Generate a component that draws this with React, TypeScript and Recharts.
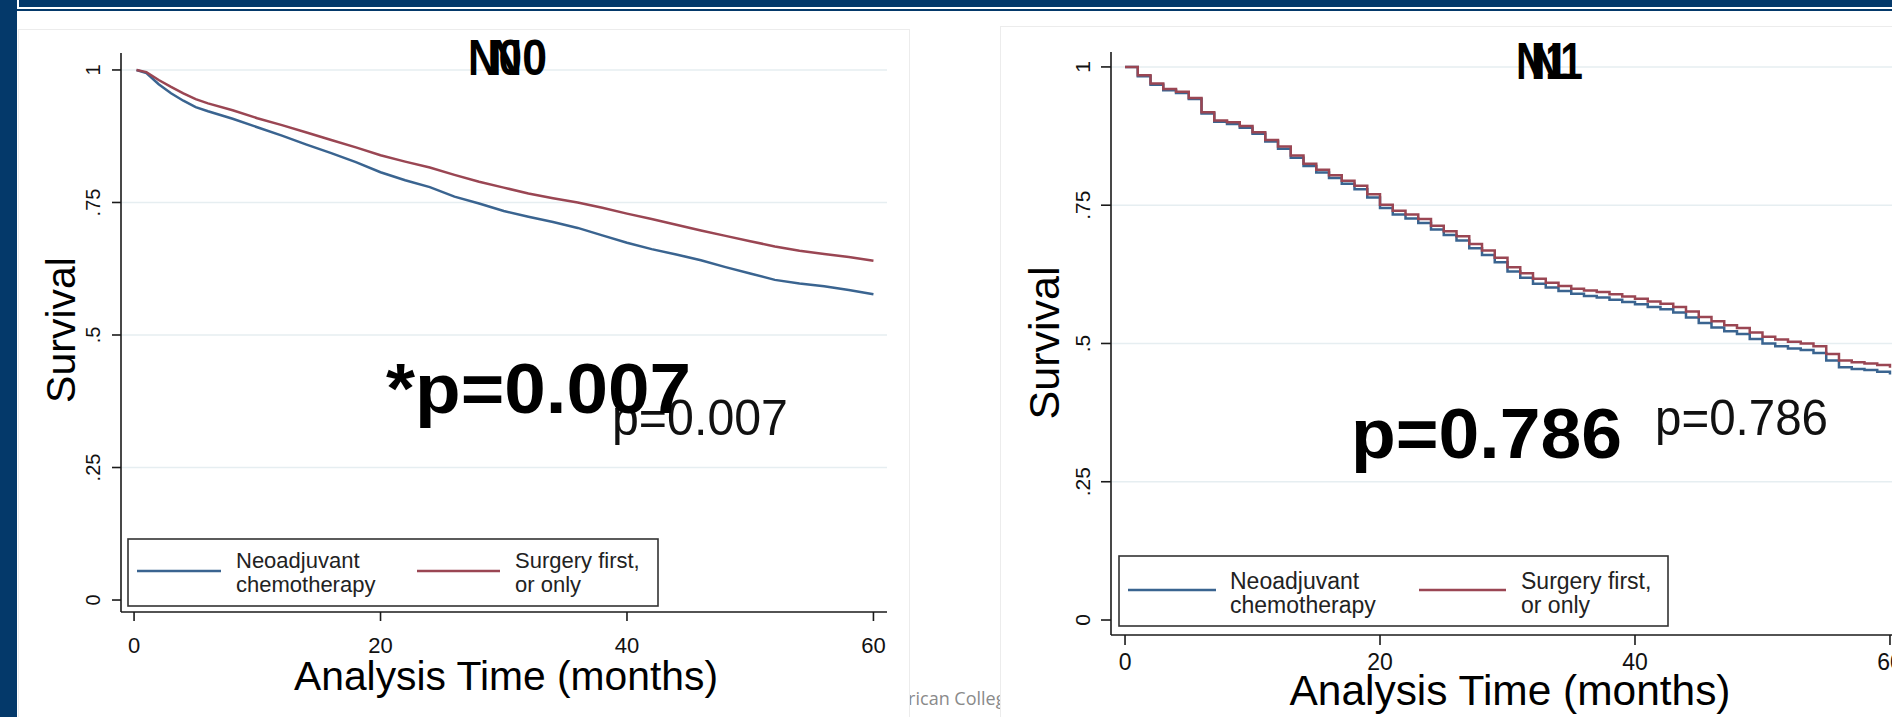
import React from 'react';
import { LineChart, Line, XAxis, YAxis, ReferenceLine, Legend } from 'recharts';

// axis ticks + legend text
const monthTicks = [0, 20, 40, 60];
const survivalTicks = [0, 0.25, 0.5, 0.75, 1];
const gridLevels = [0.25, 0.5, 0.75, 1];
const seriesLabels = [['Neoadjuvant', 'chemotherapy'], ['Surgery first,', 'or only']];

// N0 panel
const n0Months = [0.2, 1, 2, 3, 4, 5, 6, 8, 10, 12, 14, 16, 18, 20, 22, 24, 26, 28, 30, 32, 34, 36, 38, 40, 42, 44, 46, 48, 50, 52, 54, 56, 58, 60];
const n0Neoadjuvant = [1.0, 0.994, 0.973, 0.956, 0.942, 0.93, 0.922, 0.908, 0.892, 0.876, 0.859, 0.843, 0.826, 0.807, 0.792, 0.779, 0.761, 0.748, 0.734, 0.723, 0.713, 0.702, 0.688, 0.674, 0.662, 0.652, 0.641, 0.628, 0.616, 0.604, 0.597, 0.592, 0.585, 0.577];
const n0Surgery = [1.0, 0.996, 0.981, 0.968, 0.956, 0.945, 0.937, 0.924, 0.909, 0.896, 0.882, 0.868, 0.854, 0.839, 0.827, 0.816, 0.802, 0.789, 0.778, 0.767, 0.758, 0.75, 0.74, 0.729, 0.719, 0.708, 0.697, 0.687, 0.677, 0.667, 0.659, 0.653, 0.647, 0.64];

// N1 panel
const n1Months = [0, 1, 2, 3, 4, 5, 6, 7, 8, 9, 10, 11, 12, 13, 14, 15, 16, 17, 18, 19, 20, 21, 22, 23, 24, 25, 26, 27, 28, 29, 30, 31, 32, 33, 34, 35, 36, 37, 38, 39, 40, 41, 42, 43, 44, 45, 46, 47, 48, 49, 50, 51, 52, 53, 54, 55, 56, 57, 58, 59, 60];
const n1Neoadjuvant = [1.0, 0.983, 0.968, 0.958, 0.953, 0.942, 0.916, 0.901, 0.897, 0.89, 0.879, 0.865, 0.852, 0.836, 0.821, 0.809, 0.799, 0.789, 0.779, 0.764, 0.745, 0.733, 0.726, 0.718, 0.706, 0.696, 0.686, 0.672, 0.66, 0.647, 0.63, 0.619, 0.608, 0.601, 0.595, 0.59, 0.586, 0.583, 0.579, 0.575, 0.571, 0.566, 0.562, 0.556, 0.547, 0.537, 0.529, 0.522, 0.517, 0.508, 0.5, 0.495, 0.491, 0.488, 0.483, 0.469, 0.457, 0.454, 0.452, 0.449, 0.444];
const n1Surgery = [1.0, 0.985, 0.97, 0.96, 0.955, 0.944, 0.918, 0.903, 0.9, 0.893, 0.882, 0.868, 0.856, 0.84, 0.825, 0.814, 0.804, 0.794, 0.785, 0.77, 0.751, 0.74, 0.733, 0.725, 0.713, 0.703, 0.694, 0.68, 0.668, 0.655, 0.638, 0.627, 0.617, 0.61, 0.604, 0.599, 0.596, 0.593, 0.589, 0.585, 0.581, 0.576, 0.572, 0.566, 0.558, 0.548, 0.54, 0.533, 0.528, 0.52, 0.512, 0.507, 0.503, 0.5, 0.495, 0.481, 0.469, 0.466, 0.464, 0.461, 0.456];

const NAVY = '#04396a';
const BLUE = '#3a6490';
const RED = '#9a4653';
const GRID = '#e6eef1';
const FONT = "'Liberation Sans', Arial, Helvetica, sans-serif";

const n0Data = n0Months.map((m, i) => ({ month: m, neo: n0Neoadjuvant[i], surg: n0Surgery[i] }));
const n1Data = n1Months.map((m, i) => ({ month: m, neo: n1Neoadjuvant[i], surg: n1Surgery[i] }));

const fmtSurv = (v: number) => (v === 0 ? '0' : v === 1 ? '1' : String(v).replace(/^0/, ''));

const makeYTick = (size: number) => (props: any) => {
  const { x, y, payload } = props;
  return (
    <text
      transform={`translate(${x - 19},${y}) rotate(-90)`}
      textAnchor="middle"
      dy={size * 0.36}
      fontSize={size}
      fontFamily={FONT}
      fill="#111"
    >
      {fmtSurv(payload.value)}
    </text>
  );
};

const makeXTick = (size: number, drop: number) => (props: any) => {
  const { x, y, payload } = props;
  return (
    <text x={x} y={y + drop} textAnchor="middle" fontSize={size} fontFamily={FONT} fill="#111">
      {payload.value}
    </text>
  );
};

interface LegendGeo {
  w: number;
  h: number;
  lineY: number;
  base: number;
  gap: number;
  size: number;
  items: { x1: number; x2: number; tx: number }[];
}

const makeLegend = (g: LegendGeo) => () => (
  <svg width={g.w + 4} height={g.h + 4} style={{ display: 'block' }}>
    <rect x={1} y={1} width={g.w} height={g.h} fill="#fff" stroke="#333" strokeWidth={1.6} />
    {g.items.map((it, i) => (
      <g key={i}>
        <line x1={it.x1} x2={it.x2} y1={g.lineY} y2={g.lineY} stroke={i === 0 ? BLUE : RED} strokeWidth={2.6} />
        <text x={it.tx} y={g.base} fontSize={g.size} fontFamily={FONT} fill="#222">
          {seriesLabels[i][0]}
        </text>
        <text x={it.tx} y={g.base + g.gap} fontSize={g.size} fontFamily={FONT} fill="#222">
          {seriesLabels[i][1]}
        </text>
      </g>
    ))}
  </svg>
);

const leftLegend = makeLegend({
  w: 530, h: 67, lineY: 33, base: 30, gap: 24, size: 22,
  items: [{ x1: 10, x2: 94, tx: 109 }, { x1: 290, x2: 373, tx: 388 }],
});
const rightLegend = makeLegend({
  w: 549, h: 70, lineY: 35, base: 34, gap: 24, size: 23,
  items: [{ x1: 10, x2: 98, tx: 112 }, { x1: 301, x2: 388, tx: 403 }],
});

const axisLine = { stroke: '#1a1a1a', strokeWidth: 1.6 };

export default function App() {
  return (
    <div style={{ position: 'absolute', left: 0, top: 0, width: 1892, height: 717, overflow: 'hidden', background: '#fff', fontFamily: FONT }}>
      {/* slide frame */}
      <div style={{ position: 'absolute', left: 0, top: 0, width: 17, height: 717, background: NAVY }} />
      <div style={{ position: 'absolute', left: 19, top: 0, width: 1873, height: 7, background: NAVY }} />
      <div style={{ position: 'absolute', left: 17, top: 9, width: 1875, height: 2, background: NAVY }} />

      {/* footer peeking between the two panels */}
      <div style={{ position: 'absolute', left: 903, top: 686, width: 97, height: 26, overflow: 'hidden' }}>
        <span style={{ position: 'absolute', left: -5, top: 0, fontFamily: "'Open Sans', sans-serif", fontSize: 18, color: '#8a8a8a', whiteSpace: 'nowrap' }}>
          erican College of Surgeons
        </span>
      </div>

      <div style={{ position: 'absolute', left: 18, top: 29, width: 890, height: 700, background: '#fff', border: '1px solid #ececec' }} />
      <div style={{ position: 'absolute', left: 1000, top: 26, width: 900, height: 700, background: '#fff', border: '1px solid #ececec' }} />

      {/* N0 */}
      <div style={{ position: 'absolute', left: 0, top: 0 }}>
        <LineChart width={910} height={717} data={n0Data} margin={{ top: 53, right: 23, bottom: 25, left: 61 }}>
          {gridLevels.map((v) => (
            <ReferenceLine key={v} y={v} stroke={GRID} strokeWidth={1.6} />
          ))}
          <XAxis
            dataKey="month"
            type="number"
            domain={[-1.06, 61.1]}
            ticks={monthTicks}
            height={80}
            tickSize={9}
            tickMargin={0}
            axisLine={axisLine}
            tickLine={axisLine}
            tick={makeXTick(22, 32)}
          />
          <YAxis
            type="number"
            domain={[-0.0226, 1.032]}
            ticks={survivalTicks}
            width={60}
            tickSize={9}
            tickMargin={0}
            axisLine={axisLine}
            tickLine={axisLine}
            tick={makeYTick(20)}
            allowDataOverflow
          />
          <Line dataKey="neo" name="Neoadjuvant chemotherapy" stroke={BLUE} strokeWidth={2.5} dot={false} activeDot={false} isAnimationActive={false} />
          <Line dataKey="surg" name="Surgery first, or only" stroke={RED} strokeWidth={2.5} dot={false} activeDot={false} isAnimationActive={false} />
          <Legend
            layout="horizontal"
            verticalAlign="middle"
            align="center"
            content={leftLegend}
            wrapperStyle={{ left: 127, top: 538, width: 534, height: 71 }}
          />
        </LineChart>
      </div>

      {/* N1 */}
      <div style={{ position: 'absolute', left: 946, top: 0 }}>
        <LineChart width={958} height={717} data={n1Data} margin={{ top: 52, right: 0, bottom: 22, left: 105 }}>
          {gridLevels.map((v) => (
            <ReferenceLine key={v} y={v} stroke={GRID} strokeWidth={1.6} />
          ))}
          <XAxis
            dataKey="month"
            type="number"
            domain={[-1.1, 61.1]}
            ticks={monthTicks}
            height={60}
            tickSize={10}
            tickMargin={0}
            axisLine={axisLine}
            tickLine={axisLine}
            tick={makeXTick(23, 25)}
          />
          <YAxis
            type="number"
            domain={[-0.0271, 1.027]}
            ticks={survivalTicks}
            width={60}
            tickSize={10}
            tickMargin={0}
            axisLine={axisLine}
            tickLine={axisLine}
            tick={makeYTick(21)}
            allowDataOverflow
          />
          <Line type="stepAfter" dataKey="neo" name="Neoadjuvant chemotherapy" stroke={BLUE} strokeWidth={2.5} dot={false} activeDot={false} isAnimationActive={false} />
          <Line type="stepAfter" dataKey="surg" name="Surgery first, or only" stroke={RED} strokeWidth={2.5} dot={false} activeDot={false} isAnimationActive={false} />
          <Legend
            layout="horizontal"
            verticalAlign="middle"
            align="center"
            content={rightLegend}
            wrapperStyle={{ left: 172, top: 555, width: 553, height: 74 }}
          />
        </LineChart>
      </div>

      {/* titles, axis titles, p-value annotations */}
      <svg width={1892} height={717} style={{ position: 'absolute', left: 0, top: 0, pointerEvents: 'none' }}>
        <g fontFamily={FONT} fill="#000">
          <text x={468} y={75} fontSize={50} fontWeight="bold" textLength={54} lengthAdjust="spacingAndGlyphs">N0</text>
          <text x={490} y={75} fontSize={50} fontWeight="bold" textLength={57} lengthAdjust="spacingAndGlyphs">N0</text>
          <text x={1516} y={79} fontSize={52} fontWeight="bold" textLength={52} lengthAdjust="spacingAndGlyphs">N1</text>
          <text x={1531} y={79} fontSize={52} fontWeight="bold" textLength={52} lengthAdjust="spacingAndGlyphs">N1</text>

          <text transform="translate(75,330) rotate(-90)" textAnchor="middle" fontSize={41}>Survival</text>
          <text transform="translate(1059,343) rotate(-90)" textAnchor="middle" fontSize={43}>Survival</text>
          <text x={506} y={690} textAnchor="middle" fontSize={41} textLength={424} lengthAdjust="spacingAndGlyphs">Analysis Time (months)</text>
          <text x={1510} y={705} textAnchor="middle" fontSize={42} textLength={441} lengthAdjust="spacingAndGlyphs">Analysis Time (months)</text>

          <text x={612} y={435} fontSize={50} fill="#111" textLength={176} lengthAdjust="spacingAndGlyphs">p=0.007</text>
          <text x={386} y={413} fontSize={70} fontWeight="bold" textLength={305} lengthAdjust="spacingAndGlyphs">*p=0.007</text>
          <text x={1655} y={435} fontSize={50} fill="#111" textLength={173} lengthAdjust="spacingAndGlyphs">p=0.786</text>
          <text x={1351} y={458} fontSize={71} fontWeight="bold" textLength={271} lengthAdjust="spacingAndGlyphs">p=0.786</text>
        </g>
      </svg>
    </div>
  );
}
